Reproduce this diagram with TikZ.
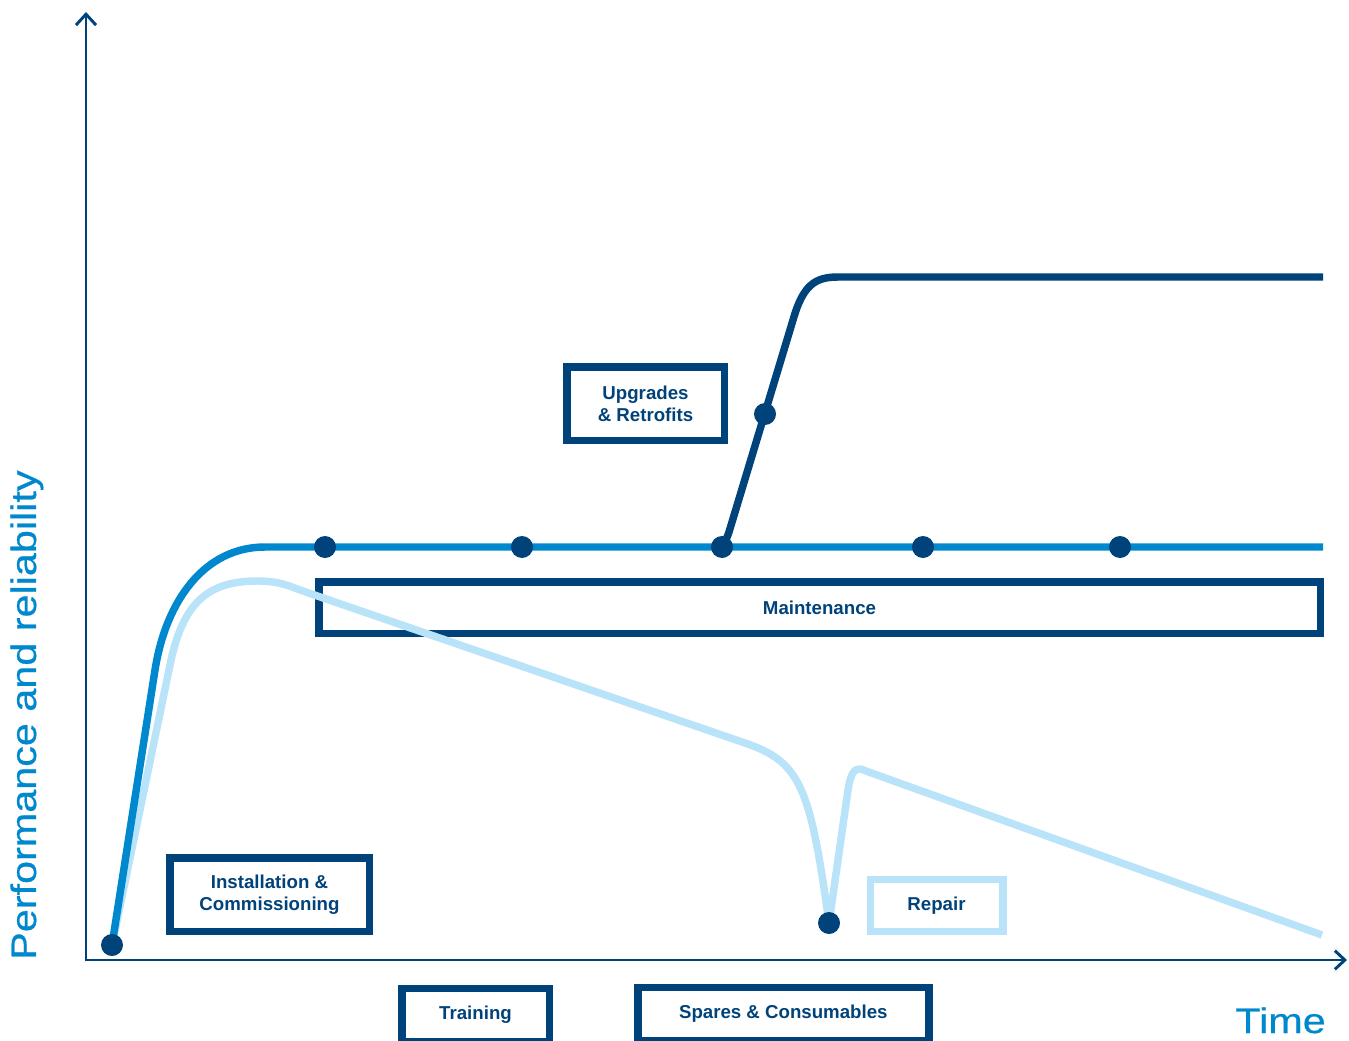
\documentclass[tikz,border=0pt]{standalone}
\usepackage{fontspec}
\setmainfont{Liberation Sans}
\newfontfamily\axisfont[FakeStretch=1.17,FakeBold=0.6]{Liberation Sans}
\usetikzlibrary{arrows.meta}
\definecolor{navy}{HTML}{00427A}
\definecolor{midblue}{HTML}{0088CE}
\definecolor{lightblue}{HTML}{B9E3F8}
\begin{document}
\begin{tikzpicture}[x=0.75pt,y=-0.75pt,
  labelbox/.style={draw=navy, line width=5.6pt, text=navy, font=\bfseries\fontsize{14}{16.5}\selectfont, align=center, inner sep=0pt},
  crv/.style={line width=5.6pt, line join=round},
  ptdot/.style={circle, fill=navy, inner sep=0pt, minimum size=16.5pt},
  axisline/.style={draw=navy, line width=2.2pt, {Straight Barb[length=8.2pt,width=15pt]}-{Straight Barb[length=7.5pt,width=14pt]}},
  axislabel/.style={text=midblue, font=\axisfont\fontsize{26.5}{30}\selectfont, inner sep=0pt}]
\clip (0,0) rectangle (1349,1041);

% axes
\coordinate (ytop) at (86,12);
\coordinate (orig) at (86,960);
\coordinate (xend) at (1347,960);
\draw[axisline] (ytop) -- (orig) -- (xend);

% axis labels
\node[axislabel, rotate=90, anchor=base west] (ylab) at (36,960) {Performance and reliability};
\node[axislabel, anchor=base east] (xlab) at (1326,1033) {Time};

% boxes
\node[labelbox, minimum width=118.1pt, minimum height=55.1pt] (upg) at (645.5,403.5) {Upgrades\\\& Retrofits};
\node[labelbox, minimum width=751.1pt, minimum height=38.6pt] (maint) at (819.5,607.5) {Maintenance};
\node[labelbox, minimum width=149.6pt, minimum height=55.1pt] (inst) at (269.5,894.5) {Installation \&\\Commissioning};
\node[labelbox, draw=lightblue, minimum width=99.4pt, minimum height=38.9pt] (rep) at (936.5,905.5) {Repair};
\node[labelbox, minimum width=110.6pt, minimum height=39.4pt] (train) at (475.5,1015) {Training};
\node[labelbox, minimum width=218.3pt, minimum height=39.4pt] (spares) at (783.3,1014) {Spares \& Consumables};

% key points
\coordinate (p0) at (112,945);
\coordinate (m1) at (325,547);
\coordinate (m2) at (522,547);
\coordinate (m3) at (722,547);
\coordinate (m4) at (923,547);
\coordinate (m5) at (1120,547);
\coordinate (u1) at (765,414);
\coordinate (r1) at (829,923);

% curves
\draw[crv, lightblue] (p0) -- (170,665) .. controls (183,600) and (210,581) .. (258,581)
  .. controls (275,581) and (285,584) .. (300,590) -- (745,743)
  .. controls (800,762) and (810,785) .. (r1) -- (848,790)
  .. controls (851,770) and (856,766) .. (866,771) -- (1322,935);
\draw[crv, midblue] (p0) -- (155,670) .. controls (166,600) and (205,547) .. (265,547) -- (1323,547);
\draw[crv, navy] (m3) .. controls (725,542) and (727,538) .. (729,532) -- (793,320)
  .. controls (803,285) and (815,277) .. (838,277) -- (1323,277);

% dots
\foreach \p in {p0,m1,m2,m3,m4,m5,u1,r1}
  \node[ptdot] at (\p) {};
\end{tikzpicture}
\end{document}
